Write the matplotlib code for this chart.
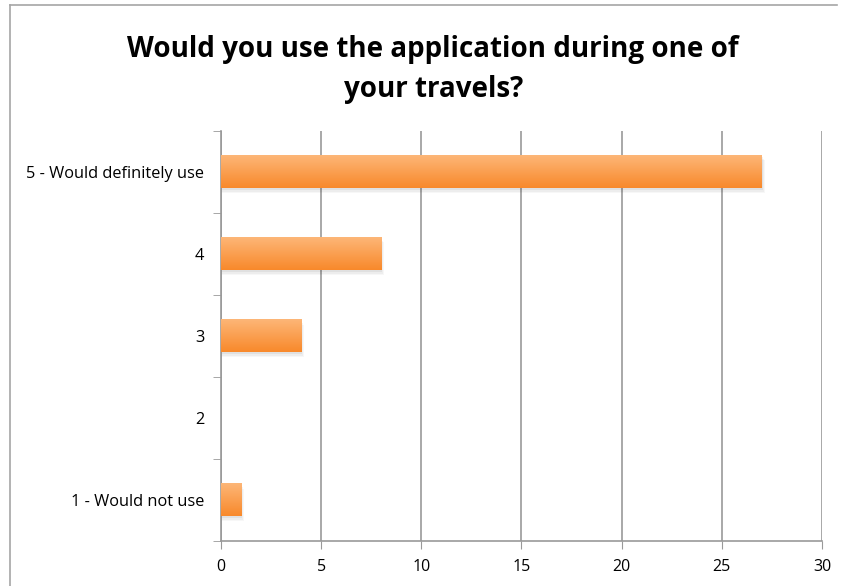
import numpy as np
import matplotlib
matplotlib.use("Agg")
import matplotlib.pyplot as plt
from matplotlib.colors import LinearSegmentedColormap
from matplotlib.lines import Line2D

plt.rcParams['font.family'] = ['Open Sans', 'DejaVu Sans']

title = "Would you use the application during one of\nyour travels?"
categories = ["1 - Would not use", "2", "3", "4", "5 - Would definitely use"]
answers = [1, 0, 4, 8, 27]
x_ticks = [0, 5, 10, 15, 20, 25, 30]

fig = plt.figure(figsize=(8.46, 5.86), dpi=100)
ax = fig.add_axes([0.2612, 0.0768, 0.7104, 0.6997])

# outer chart frame (left and top edges)
fig.add_artist(Line2D([0.0118, 0.0118], [0.0, 0.9915], color='#a6a6a6', lw=1.2,
                      transform=fig.transFigure))
fig.add_artist(Line2D([0.0118, 0.989], [0.9915, 0.9915], color='#a6a6a6', lw=1.2,
                      transform=fig.transFigure))

grad = LinearSegmentedColormap.from_list("bar", ["#f8892b", "#fdb677"])
gradient = np.linspace(0, 1, 64).reshape(-1, 1)
h = 0.4
for i, v in enumerate(answers):
    if v <= 0:
        continue
    # soft drop shadow, a few faint layers
    for k, a in enumerate([0.05, 0.04, 0.03]):
        d = 0.02 * (k + 1)
        ax.barh(i - d, v + 0.05 * (k + 1), height=h, left=0.0, color='#000000',
                alpha=a, zorder=2, linewidth=0)
    ax.imshow(gradient, extent=(0, v, i - h / 2, i + h / 2), aspect='auto',
              cmap=grad, origin='lower', zorder=3, interpolation='bilinear')

ax.set_xlim(0, 30)
ax.set_ylim(-0.5, len(categories) - 0.5)

ax.set_xticks(x_ticks)
ax.set_xticklabels([str(t) for t in x_ticks], fontsize=11.5)
ax.set_yticks(range(len(categories)))
ax.set_yticklabels(categories, fontsize=11.8)
ax.set_yticks(np.arange(-0.5, len(categories), 1.0), minor=True)
ax.tick_params(axis='y', which='major', length=0, pad=12)
ax.tick_params(axis='y', which='minor', length=6, color='#999999', direction='out')
ax.tick_params(axis='x', length=6, color='#999999', direction='out', pad=7)

ax.grid(axis='x', color='#999999', lw=1.2, zorder=0)
ax.set_axisbelow(True)
for side in ['top', 'right']:
    ax.spines[side].set_visible(False)
for side in ['left', 'bottom']:
    ax.spines[side].set_color('#999999')
    ax.spines[side].set_linewidth(1.2)

fig.text(0.512, 0.94, title, ha='center', va='top', fontsize=20, fontweight='bold',
         linespacing=1.48, multialignment='center')

fig.savefig("out.png", dpi=100)
